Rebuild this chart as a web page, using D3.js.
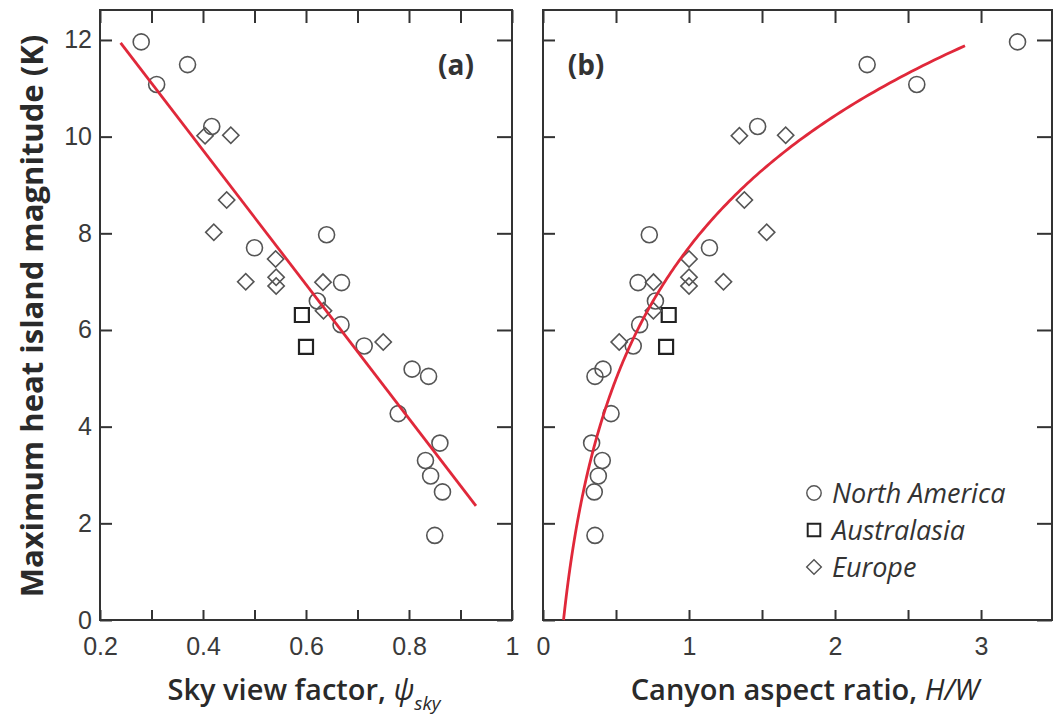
<!DOCTYPE html>
<html>
<head>
<meta charset="utf-8">
<script src="https://cdn.jsdelivr.net/npm/d3@7"></script>
<style>
  body { margin: 0; background: #fff; }
  svg { display: block; font-family: 'Open Sans', sans-serif; }
</style>
</head>
<body>
<svg id="chart" width="1058" height="720"></svg>
<script>
'use strict';

// Heat island magnitude (K) per city, with sky view factor and H/W for the same city
var naHeat = [11.96, 11.49, 11.08, 10.21, 7.97, 7.70, 6.98, 6.60, 6.11, 5.67, 5.19, 5.04, 4.27, 3.66, 3.30, 2.98, 2.65, 1.75];
var naSvf  = [0.28, 0.37, 0.31, 0.417, 0.64, 0.50, 0.669, 0.622, 0.668, 0.713, 0.806, 0.838, 0.779, 0.86, 0.832, 0.842, 0.865, 0.85];
var naHw   = [3.25, 2.22, 2.56, 1.47, 0.728, 1.14, 0.651, 0.77, 0.662, 0.618, 0.411, 0.356, 0.466, 0.333, 0.406, 0.379, 0.351, 0.356];

var auHeat = [6.31, 5.65];
var auSvf  = [0.592, 0.600];
var auHw   = [0.861, 0.843];

var euHeat = [10.02, 10.03, 8.69, 8.02, 7.47, 7.09, 6.91, 7.00, 6.99, 6.40, 5.75];
var euSvf  = [0.404, 0.454, 0.446, 0.421, 0.541, 0.542, 0.542, 0.483, 0.633, 0.634, 0.750];
var euHw   = [1.345, 1.662, 1.379, 1.532, 1.0, 1.0, 1.0, 1.236, 0.757, 0.756, 0.522];

// Fitted relations drawn in red: [intercept, slope] and the span they cover
var svfFit = [15.27, -13.88];
var svfFitSpan = [0.24, 0.93];
var hwFit = [7.71, 3.93];          // heat = a + b ln(H/W)
var hwFitSpan = [0.1406, 2.89];

// Ticks and tick labels
var heatTicks = [0, 2, 4, 6, 8, 10, 12];
var svfTicks = [0.2, 0.3, 0.4, 0.5, 0.6, 0.7, 0.8, 0.9, 1.0];
var svfTickLabels = ['0.2', '', '0.4', '', '0.6', '', '0.8', '', '1'];
var hwTicks = [0, 0.5, 1, 1.5, 2, 2.5, 3];
var hwTickLabels = ['0', '', '1', '', '2', '', '3'];

var regions = ['North America', 'Australasia', 'Europe'];
var regionShapes = ['circle', 'square', 'diamond'];

var svg = d3.select('#chart');
var ink = '#333';
var red = '#e0283a';

var frameTop = 10, frameBottom = 620;
var heatScale = d3.scaleLinear().domain([0, 12.62]).range([frameBottom, frameTop]);
var svfScale = d3.scaleLinear().domain([0.2, 1.0]).range([100, 512]);
var hwScale = d3.scaleLinear().domain([0, 3.486]).range([543, 1052]);

/**
 * Path for one marker shape
 */
function markerPath(shape) {
	if (shape === 'circle') {
		return d3.symbol(d3.symbolCircle, Math.PI * 8 * 8)();
	}
	if (shape === 'square') {
		return d3.symbol(d3.symbolSquare, 14 * 14)();
	}
	return d3.symbol(d3.symbolSquare, 11.5 * 11.5)();
}

function markerStyle(sel, shape) {
	sel.attr('d', markerPath(shape))
		.attr('fill', 'none')
		.attr('stroke', shape === 'square' ? '#222' : '#555')
		.attr('stroke-width', shape === 'square' ? 2.2 : 1.6);
}

function markerTransform(x, y, shape) {
	return 'translate(' + x + ',' + y + ')' + (shape === 'diamond' ? ' rotate(45)' : '');
}

/**
 * Draw one panel: frame, ticks, points and fit
 */
function drawPanel(xScale, xTicks, xLabels, xKey, showHeatLabels) {
	var g = svg.append('g');
	var x0 = xScale.range()[0], x1 = xScale.range()[1];

	// Ticks on all four sides, pointing inward
	g.append('g').attr('transform', 'translate(0,' + frameBottom + ')')
		.call(d3.axisBottom(xScale).tickValues(xTicks).tickSize(-10).tickPadding(17)
			.tickFormat(function(d, i) { return xLabels[i]; }));
	g.append('g').attr('transform', 'translate(0,' + frameTop + ')')
		.call(d3.axisTop(xScale).tickValues(xTicks).tickSize(-13).tickFormat(''));
	g.append('g').attr('transform', 'translate(' + x0 + ',0)')
		.call(d3.axisLeft(heatScale).tickValues(heatTicks).tickSize(-12).tickPadding(8)
			.tickFormat(showHeatLabels ? d3.format('d') : ''));
	g.append('g').attr('transform', 'translate(' + x1 + ',0)')
		.call(d3.axisRight(heatScale).tickValues(heatTicks).tickSize(-15).tickFormat(''));

	g.selectAll('.domain').remove();
	g.selectAll('.tick line').attr('stroke', ink).attr('stroke-width', 2);
	g.selectAll('.tick text').attr('fill', '#3a3a3a').style('font-size', '25px');

	// Frame
	g.append('rect')
		.attr('x', x0).attr('y', frameTop)
		.attr('width', x1 - x0).attr('height', frameBottom - frameTop)
		.attr('fill', 'none').attr('stroke', ink).attr('stroke-width', 2);

	// Points, one group per region
	var sets = [
		{ shape: 'circle', heat: naHeat, x: xKey === 'svf' ? naSvf : naHw },
		{ shape: 'square', heat: auHeat, x: xKey === 'svf' ? auSvf : auHw },
		{ shape: 'diamond', heat: euHeat, x: xKey === 'svf' ? euSvf : euHw }
	];
	sets.forEach(function(set) {
		g.append('g').selectAll('path')
			.data(set.heat)
			.enter().append('path')
			.call(markerStyle, set.shape)
			.attr('transform', function(d, i) {
				return markerTransform(xScale(set.x[i]), heatScale(d), set.shape);
			});
	});
	return g;
}

var panelA = drawPanel(svfScale, svfTicks, svfTickLabels, 'svf', true);
var panelB = drawPanel(hwScale, hwTicks, hwTickLabels, 'hw', false);

// Fit lines
panelA.append('path')
	.datum(svfFitSpan)
	.attr('fill', 'none').attr('stroke', red).attr('stroke-width', 2.8)
	.attr('d', d3.line()
		.x(function(d) { return svfScale(d); })
		.y(function(d) { return heatScale(svfFit[0] + svfFit[1] * d); }));

var hwCurve = d3.range(0, 201).map(function(i) {
	return hwFitSpan[0] * Math.pow(hwFitSpan[1] / hwFitSpan[0], i / 200);
});
panelB.append('path')
	.datum(hwCurve)
	.attr('fill', 'none').attr('stroke', red).attr('stroke-width', 2.8)
	.attr('d', d3.line()
		.x(function(d) { return hwScale(d); })
		.y(function(d) { return heatScale(Math.max(0, hwFit[0] + hwFit[1] * Math.log(d))); }));

// Panel letters
svg.append('text').attr('x', 456).attr('y', 75).attr('text-anchor', 'middle')
	.attr('fill', ink).style('font-size', '28px').style('font-weight', 'bold').text('(a)');
svg.append('text').attr('x', 586).attr('y', 75).attr('text-anchor', 'middle')
	.attr('fill', ink).style('font-size', '28px').style('font-weight', 'bold').text('(b)');

// Axis titles
svg.append('text')
	.attr('transform', 'translate(43,316) rotate(-90)')
	.attr('text-anchor', 'middle')
	.attr('fill', '#2a2a2a')
	.style('font-size', '31px').style('font-weight', 'bold')
	.text('Maximum heat island magnitude (K)');

var svfTitle = svg.append('text').attr('x', 304).attr('y', 700)
	.attr('text-anchor', 'middle').attr('fill', '#2a2a2a')
	.style('font-size', '29px').style('font-weight', 600);
svfTitle.append('tspan').text('Sky view factor, ');
svfTitle.append('tspan').style('font-style', 'italic').style('font-weight', 400).text('ψ');
svfTitle.append('tspan').attr('dy', 10).style('font-style', 'italic').style('font-weight', 400)
	.style('font-size', '19px').text('sky');

var hwTitle = svg.append('text').attr('x', 805).attr('y', 700)
	.attr('text-anchor', 'middle').attr('fill', '#2a2a2a')
	.style('font-size', '29px').style('font-weight', 600);
hwTitle.append('tspan').text('Canyon aspect ratio, ');
hwTitle.append('tspan').style('font-style', 'italic').style('font-weight', 400).text('H/W');

// Legend
var legend = svg.append('g').attr('transform', 'translate(814,493)');
regions.forEach(function(name, i) {
	var row = legend.append('g').attr('transform', 'translate(0,' + (i * 37) + ')');
	row.append('path').call(markerStyle, regionShapes[i])
		.attr('transform', markerTransform(0, 0, regionShapes[i]) + ' scale(0.9)');
	row.append('text').attr('x', 18).attr('y', 9.5)
		.attr('fill', ink).style('font-size', '27px').style('font-style', 'italic')
		.text(name);
});
</script>
</body>
</html>
